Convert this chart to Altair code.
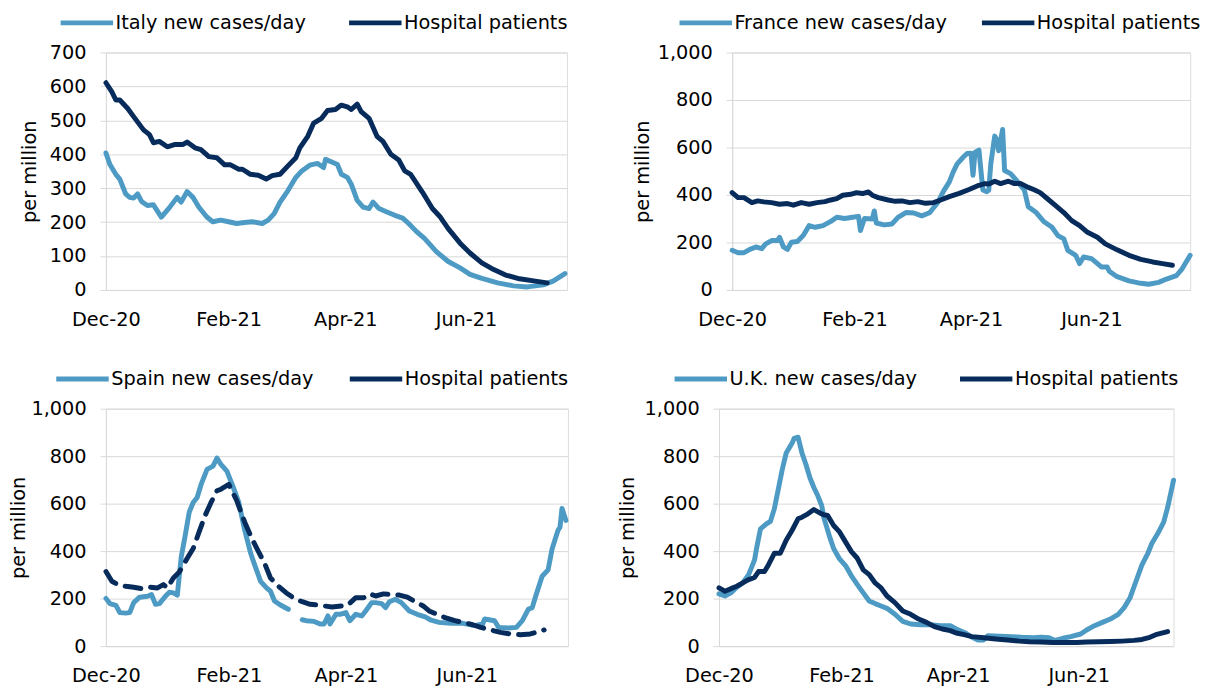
import altair as alt
import pandas as pd

BASE = pd.Timestamp("2020-12-01")
LIGHT = "#4D9AC4"
DARK = "#072C5C"
GRID = "#D9D9D9"
FONT = "DejaVu Sans"
FS = 19.5

# ---------------- data (day offset from 1 Dec 2020, value per million) ----------------
italy_cases_day = [0, 2, 5, 7, 10, 12, 14, 16, 18, 21, 24, 28, 32, 36, 38, 41, 44, 47, 51, 54, 58, 62, 66, 70, 74,
                   79, 82, 85, 88, 92, 96, 99, 103, 107, 110, 111, 115, 117, 119, 122, 124, 127, 130, 133, 135,
                   138, 142, 146, 150, 153, 157, 161, 167, 173, 179, 184, 190, 198, 206, 213, 221, 226, 232]
italy_cases_val = [404, 370, 341, 327, 283, 273, 271, 283, 261, 249, 251, 215, 242, 273, 259, 290, 273, 244, 215,
                   201, 206, 201, 196, 199, 201, 196, 206, 225, 259, 293, 332, 351, 368, 373, 361, 385, 375, 370,
                   341, 332, 312, 264, 244, 240, 259, 240, 230, 220, 212, 196, 172, 152, 113, 84, 65, 46, 34, 21,
                   12, 9, 15, 26, 48]
italy_hosp_day = [0, 3, 5, 7, 11, 14, 19, 22, 24, 27, 31, 35, 39, 41, 45, 48, 52, 56, 60, 63, 67, 69, 73, 77, 81,
                  84, 88, 92, 96, 98, 102, 105, 109, 112, 116, 119, 122, 124, 127, 129, 133, 137, 140, 144, 148,
                  151, 154, 160, 165, 169, 173, 179, 184, 190, 196, 202, 209, 217, 223]
italy_hosp_val = [611, 584, 560, 560, 535, 511, 472, 458, 434, 438, 422, 429, 429, 436, 419, 414, 393, 390, 369,
                  369, 356, 356, 341, 338, 327, 337, 341, 366, 390, 419, 453, 492, 506, 529, 532, 545, 540, 532,
                  548, 526, 506, 453, 438, 400, 383, 351, 341, 288, 240, 215, 181, 138, 109, 80, 60, 44, 33, 26, 21]

france_cases_day = [0, 3, 6, 9, 12, 15, 17, 20, 23, 24, 26, 28, 30, 33, 36, 39, 42, 46, 50, 53, 57, 61, 64, 65, 67,
                    71, 72, 73, 77, 81, 84, 88, 92, 96, 100, 104, 107, 110, 112, 114, 117, 119, 121, 122, 123, 125,
                    127, 129, 130, 131, 133, 134, 135, 137, 138, 141, 144, 148, 150, 154, 158, 162, 165, 168, 170,
                    174, 176, 178, 182, 184, 187, 190, 191, 195, 201, 207, 211, 216, 220, 225, 228, 232]
france_cases_val = [167, 157, 157, 171, 181, 174, 194, 208, 208, 222, 181, 171, 201, 204, 229, 271, 264, 271, 289,
                    306, 301, 306, 310, 250, 301, 299, 333, 282, 274, 278, 306, 326, 324, 312, 325, 366, 415, 455,
                    497, 531, 559, 575, 576, 483, 579, 589, 421, 414, 421, 531, 648, 634, 586, 676, 503, 490, 462,
                    421, 350, 326, 287, 264, 229, 215, 167, 146, 111, 139, 132, 118, 97, 97, 79, 56, 38, 28, 24,
                    32, 46, 60, 90, 146]
france_hosp_day = [0, 3, 6, 10, 13, 16, 20, 24, 28, 31, 35, 39, 43, 47, 50, 53, 56, 60, 63, 66, 69, 71, 74, 79, 82,
                   86, 90, 94, 98, 102, 105, 110, 115, 120, 125, 128, 130, 133, 136, 140, 143, 146, 150, 153, 156,
                   160, 164, 168, 172, 176, 180, 185, 189, 195, 201, 207, 213, 218, 223]
france_hosp_val = [410, 389, 389, 368, 375, 371, 368, 361, 364, 357, 368, 361, 368, 372, 379, 385, 399, 403, 410,
                   406, 413, 399, 389, 379, 374, 375, 368, 372, 365, 368, 377, 393, 407, 423, 441, 448, 446, 458,
                   448, 458, 448, 448, 432, 422, 410, 382, 354, 326, 292, 271, 243, 222, 194, 169, 146, 129, 118,
                   111, 104]

spain_cases_day = [0, 2, 5, 7, 10, 12, 14, 17, 21, 23, 25, 27, 30, 32, 34, 36, 38, 40, 42, 44, 46, 48, 51, 54, 56,
                   58, 61, 64, 67, 70, 73, 75, 78, 81, 83, 85, 88, 92,
                   99, 101, 105, 108, 110, 112, 113, 116, 118, 121, 123, 126, 129, 131, 134, 136, 139, 141, 143,
                   146, 149, 153, 157, 161, 164, 168, 174, 180, 186, 190, 191, 196, 198, 203, 207, 210, 213, 215,
                   217, 220, 223, 225, 228, 229, 230, 232]
spain_cases_val = [201, 179, 172, 141, 139, 141, 183, 206, 210, 217, 176, 179, 210, 227, 224, 215, 377, 467, 564,
                   605, 626, 681, 744, 758, 792, 765, 737, 674, 605, 488, 391, 342, 273, 245, 231, 190, 173, 155,
                   111, 107, 104, 93, 93, 127, 93, 134, 134, 141, 107, 134, 127, 148, 183, 183, 179, 162, 187,
                   197, 183, 148, 134, 123, 109, 100, 96, 96, 86, 93, 114, 107, 79, 76, 79, 107, 155, 162, 217,
                   294, 321, 409, 488, 501, 580, 529]
spain_cases_break_after = 92  # no data reported between these days
spain_hosp_day = [0, 3, 6, 10, 14, 18, 22, 26, 29, 31, 34, 37, 41, 44, 47, 50, 53, 56, 58, 62, 66, 70, 74, 77, 80,
                  83, 87, 91, 95, 99, 103, 107, 110, 114, 119, 122, 126, 130, 133, 136, 140, 144, 148, 152, 156,
                  160, 163, 167, 171, 176, 180, 185, 189, 194, 199, 204, 209, 214, 217, 221]
spain_hosp_val = [314, 273, 259, 252, 248, 242, 248, 245, 259, 245, 287, 312, 370, 411, 481, 550, 605, 654, 661,
                  681, 612, 522, 446, 397, 349, 287, 252, 224, 201, 187, 176, 173, 169, 165, 169, 173, 204, 204,
                  220, 211, 220, 217, 215, 206, 187, 169, 148, 134, 120, 107, 100, 90, 79, 68, 58, 51, 48, 51,
                  58, 68]

uk_cases_day = [0, 3, 6, 9, 12, 15, 18, 19, 21, 24, 26, 28, 30, 32, 34, 37, 38, 40, 42, 44, 46, 48, 50, 52, 53, 56,
                58, 61, 64, 67, 70, 73, 76, 79, 82, 85, 89, 93, 97, 102, 107, 112, 117, 120, 125, 128, 131, 134,
                136, 142, 148, 153, 159, 163, 167, 170, 174, 178, 183, 186, 190, 194, 198, 202, 205, 208, 211,
                214, 217, 219, 222, 225, 227, 229, 230]
uk_cases_val = [220, 211, 224, 248, 266, 301, 363, 411, 494, 515, 525, 578, 661, 744, 813, 855, 875, 880, 813, 765,
                709, 668, 633, 591, 543, 460, 411, 367, 339, 296, 259, 224, 190, 179, 169, 159, 134, 104, 93, 90,
                90, 86, 86, 72, 54, 37, 26, 26, 44, 42, 40, 37, 35, 37, 35, 24, 33, 40, 51, 68, 86, 100, 114,
                134, 162, 204, 273, 342, 391, 432, 474, 522, 584, 661, 699]
uk_hosp_day = [0, 3, 6, 9, 12, 15, 18, 20, 23, 25, 28, 31, 34, 37, 40, 42, 45, 48, 51, 53, 55, 58, 61, 64, 67, 70,
               73, 76, 79, 82, 85, 89, 93, 97, 101, 105, 109, 113, 117, 120, 124, 128, 134, 140, 146, 152, 157,
               163, 169, 175, 181, 186, 192, 198, 204, 210, 214, 218, 221, 227]
uk_hosp_val = [245, 231, 242, 252, 266, 280, 289, 314, 314, 342, 391, 391, 446, 488, 536, 543, 557, 575, 561, 553,
               550, 508, 481, 439, 398, 370, 321, 301, 266, 245, 211, 183, 148, 134, 114, 100, 82, 72, 65, 55, 48,
               40, 35, 30, 26, 21, 18, 17, 15, 15, 15, 17, 18, 19, 21, 24, 28, 37, 48, 61]

HOSP_LABEL = "Hospital patients"


def frame(days, vals, series, break_after=None):
    seg = [0 if (break_after is None or d <= break_after) else 1 for d in days]
    return pd.DataFrame({
        "date": [(BASE + pd.Timedelta(days=int(d))).strftime("%Y-%m-%dT00:00:00") for d in days],
        "value": vals,
        "series": series,
        "seg": seg,
    })


def panel(cases_df, hosp_df, cases_label, ymax, ystep, width, end_day, legend_x, legend_y,
          col_pad, title_pad, dashed=False):
    end = BASE + pd.Timedelta(days=end_day)
    color = alt.Color(
        "series:N",
        scale=alt.Scale(domain=[cases_label, HOSP_LABEL], range=[LIGHT, DARK]),
        legend=alt.Legend(
            title=None, orient="none", legendX=legend_x, legendY=legend_y, direction="horizontal",
            symbolType="stroke", symbolSize=2809, symbolStrokeWidth=5, symbolDash=[1, 0],
            labelFont=FONT, labelFontSize=FS, labelColor="#000000", labelLimit=400,
            labelOffset=0, columnPadding=col_pad, padding=0,
        ),
    )
    x = alt.X(
        "date:T",
        scale=alt.Scale(domain=[alt.DateTime(year=2020, month=12, date=1),
                                alt.DateTime(year=end.year, month=end.month, date=end.day)]),
        axis=alt.Axis(
            title=None, format="%b-%y", labelFlush=False, ticks=False, tickSize=0, grid=False,
            values=[alt.DateTime(year=2020, month=12, date=1), alt.DateTime(year=2021, month=2, date=1),
                    alt.DateTime(year=2021, month=4, date=1), alt.DateTime(year=2021, month=6, date=1)],
            domainColor=GRID, domainWidth=1, labelPadding=20.5, labelFont=FONT, labelFontSize=FS,
            labelColor="#000000",
        ),
    )
    y = alt.Y(
        "value:Q",
        scale=alt.Scale(domain=[0, ymax], nice=False),
        axis=alt.Axis(
            title="per million", values=list(range(0, ymax + 1, ystep)), format=",d",
            grid=True, gridColor=GRID, gridWidth=1, domainColor=GRID, domainWidth=1,
            ticks=True, tickSize=6, tickColor=GRID, tickWidth=1, labelPadding=14,
            labelFont=FONT, labelFontSize=FS, labelColor="#000000",
            titleFont=FONT, titleFontSize=FS, titleFontWeight="normal", titleColor="#000000",
            titlePadding=title_pad,
        ),
    )
    cases = alt.Chart(cases_df).mark_line(
        strokeWidth=5, strokeCap="round", strokeJoin="round"
    ).encode(x=x, y=y, color=color, detail="seg:N")
    hosp_props = dict(strokeWidth=5, strokeCap="round", strokeJoin="round")
    if dashed:
        hosp_props["strokeDash"] = [16, 10]
    hosp = alt.Chart(hosp_df).mark_line(**hosp_props).encode(x=x, y=y, color=color)
    return alt.layer(cases, hosp).properties(width=width, height=240)


italy = panel(frame(italy_cases_day, italy_cases_val, "Italy new cases/day"),
              frame(italy_hosp_day, italy_hosp_val, HOSP_LABEL),
              "Italy new cases/day", 700, 100, 466, 233, -48.3, -59, 32.6, 10.3)
france = panel(frame(france_cases_day, france_cases_val, "France new cases/day"),
               frame(france_hosp_day, france_hosp_val, HOSP_LABEL),
               "France new cases/day", 1000, 200, 463, 232, -55.7, -59, 24.7, 5.2)
spain = panel(frame(spain_cases_day, spain_cases_val, "Spain new cases/day", spain_cases_break_after),
              frame(spain_hosp_day, spain_hosp_val, HOSP_LABEL),
              "Spain new cases/day", 1000, 200, 467, 233, -52.7, -59, 25.7, 2.0, dashed=True)
uk = panel(frame(uk_cases_day, uk_cases_val, "U.K. new cases/day"),
           frame(uk_hosp_day, uk_hosp_val, HOSP_LABEL),
           "U.K. new cases/day", 1000, 200, 459.5, 230, -47.4, -59, 32.5, 6.4)

top = alt.hconcat(italy, france, spacing=167, bounds="flush").resolve_scale(
    color="independent", x="independent", y="independent").resolve_legend(color="independent")
bottom = alt.hconcat(spain, uk, spacing=152.7, bounds="flush").resolve_scale(
    color="independent", x="independent", y="independent").resolve_legend(color="independent")

chart = alt.vconcat(top, bottom, spacing=360, bounds="flush").resolve_scale(
    color="independent", x="independent", y="independent"
).resolve_legend(color="independent").properties(
    padding={"left": 0, "top": -18.7, "right": 5, "bottom": 5}
).configure_view(stroke=None).configure(background="white")

chart.save("out.html", embed_options={"renderer": "svg", "actions": False})
